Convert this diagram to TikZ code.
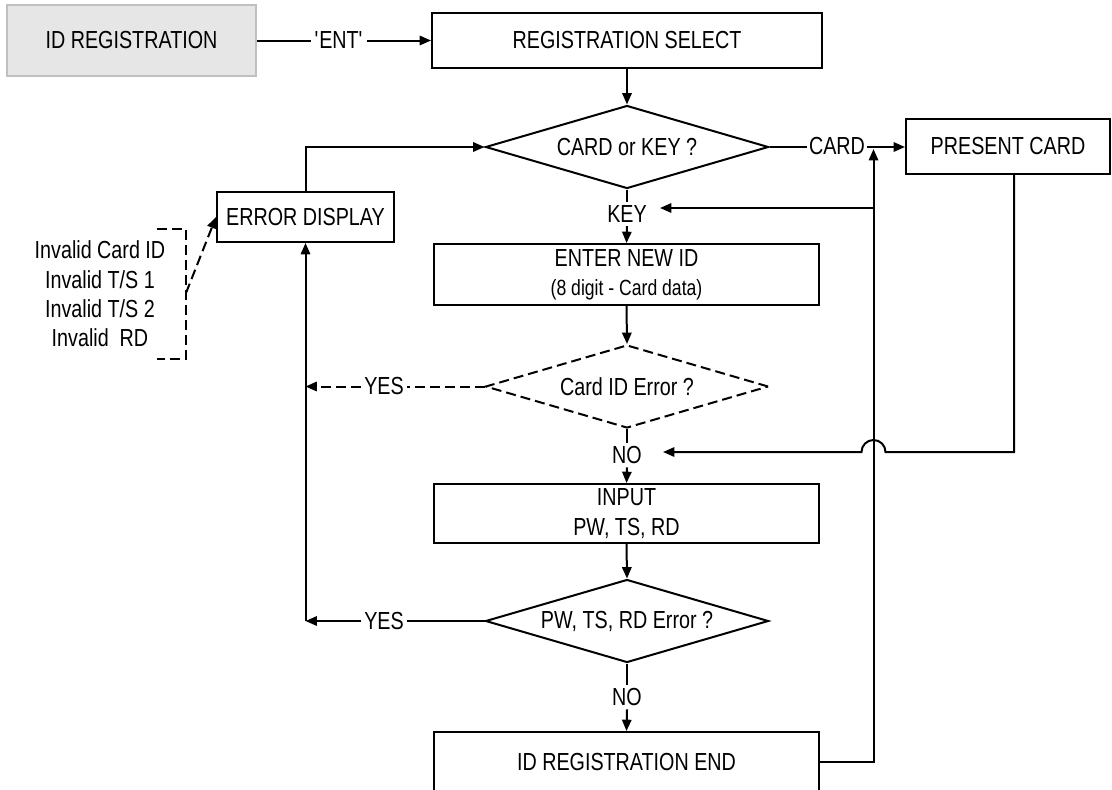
\documentclass[tikz,border=0pt]{standalone}
\usepackage{fontspec}
\setmainfont{Liberation Sans}[FakeStretch=0.8]
\usetikzlibrary{shapes.geometric,arrows.meta}
\begin{document}
\begin{tikzpicture}[x=0.75pt,y=-0.75pt, line width=1.5pt,
  font=\fontsize{18.5}{22}\selectfont,
  box/.style={draw, rectangle, inner sep=0pt, align=center},
  dia/.style={draw, diamond, inner sep=0pt, aspect=3.4, minimum width=212.25pt, minimum height=62.25pt},
  lbl/.style={inner sep=2pt},
  arr/.style={-{Triangle[length=8.5pt,width=7pt]}},
  dsh/.style={dash pattern=on 7.5pt off 3.75pt}]
\useasboundingbox (0,0) rectangle (1112,789);

% nodes
\node[box, fill={rgb,255:red,230;green,230;blue,230}, draw={rgb,255:red,192;green,192;blue,192},
      minimum width=186.75pt, minimum height=53.25pt] (idreg) at (131.5,40.5) {ID REGISTRATION};
\node[box, minimum width=292.5pt, minimum height=41.25pt] (regsel) at (627,40.5) {REGISTRATION SELECT};
\node[dia] (cardkey) at (627,147) {CARD or KEY ?};
\node[box, minimum width=153pt, minimum height=41.25pt] (present) at (1008,146) {PRESENT CARD};
\node[box, minimum width=132.75pt, minimum height=37.5pt] (errdisp) at (305.5,217) {ERROR DISPLAY};
\node[box, minimum width=288.75pt, minimum height=45.75pt] (enternew) at (626.5,274.5)
  {ENTER NEW ID\\{\fontsize{16.5}{20}\selectfont (8 digit - Card data)}};
\node[dia, dsh] (cardid) at (627,386.5) {Card ID Error ?};
\node[box, minimum width=288.75pt, minimum height=44.25pt] (input) at (626.5,513.5) {INPUT\\PW, TS, RD};
\node[dia] (pwerr) at (627,621) {PW, TS, RD Error ?};
\node[box, minimum width=288.75pt, minimum height=45pt] (idend) at (626.5,762) {ID REGISTRATION END};

% labels
\node[lbl] (ent) at (339,40.5) {\textquotesingle ENT\textquotesingle};
\node[lbl, inner sep=1pt] (card) at (837,146) {CARD};
\node[lbl] (key) at (627,214) {KEY};
\node[lbl] (no1) at (627,455) {NO};
\node[lbl] (yes1) at (384,386.5) {YES};
\node[lbl] (yes2) at (384,621) {YES};
\node[lbl] (no2) at (627,697) {NO};
\node[align=center] (inv) at (100,294)
  {Invalid Card ID\\Invalid T/S 1\\Invalid T/S 2\\Invalid\ \ RD};

% connectors
\draw (idreg.east) -- (ent.west);
\draw[arr] (ent.east) -- (regsel.west);
\draw[arr] (regsel.south) -- (cardkey.north);
\draw (cardkey.east) -- (card.west |- cardkey.east);
\draw[arr] (card.east |- cardkey.east) -- (cardkey.east -| present.west);
\draw (cardkey.south) -- (key.north);
\draw[arr] (key.south) -- (enternew.north);
\draw[arr] (enternew.south) -- (cardid.north);
\draw (cardid.south) -- (no1.north);
\draw[arr] (no1.south) -- (input.north);
\draw[arr] (input.south) -- (pwerr.north);
\draw (pwerr.south) -- (no2.north);
\draw[arr] (no2.south) -- (idend.north);

\draw[dsh] (cardid.west) -- (yes1.east);
\draw[dsh,arr] (yes1.west) -- (yes1.west -| errdisp.south);
\draw (pwerr.west) -- (yes2.east);
\draw[arr] (yes2.west) -- (yes2.west -| errdisp.south);
\draw[arr] (yes2.west -| errdisp.south) -- (errdisp.south);
\draw[arr] (errdisp.north) |- (cardkey.west);

\coordinate (riser) at (873.5,149);
\coordinate (keyin) at (660,208);
\coordinate (noin) at (663,452);
\draw[arr] (idend.east) -| (riser);
\draw[arr] (riser |- keyin) -- (keyin);
\draw[arr] ([xshift=4.5pt]present.south) |- (885.5,452)
  arc[start angle=0, end angle=-180, radius=12] -- (noin);

% bracket
\draw[dsh] (157,229) -- (186,229) -- (186,359) -- (157,359);
\coordinate (brk) at (186,293);
\draw[dsh,arr] (brk) -- (errdisp.west);
\end{tikzpicture}
\end{document}
